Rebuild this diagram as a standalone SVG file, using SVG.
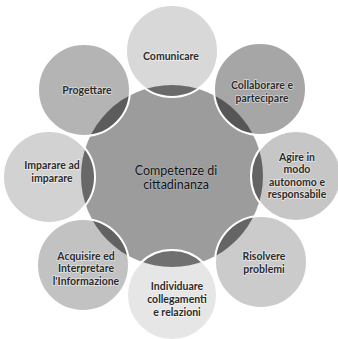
<svg xmlns="http://www.w3.org/2000/svg" width="338" height="339" viewBox="0 0 338 339">
<defs>
<style>
.lbl{font-family:Lato,"Open Sans","Liberation Sans",sans-serif;font-weight:bold;font-size:10.5px;fill:#2a2a2a;text-anchor:middle;stroke:#ffffff;stroke-width:1.4px;stroke-opacity:0.6;paint-order:stroke;}
.ctr{font-size:12.5px;font-weight:normal;fill:#111111;stroke:#c8c8c8;stroke-width:1px;}
.edge{fill:none;stroke:#ffffff;stroke-width:2;}
.lens{fill:#222222;fill-opacity:0.6;}
</style>
<clipPath id="outerUnion">
<circle cx="172" cy="51" r="46"/>
<circle cx="260" cy="89" r="46"/>
<circle cx="296" cy="176" r="45"/>
<circle cx="261" cy="262" r="46"/>
<circle cx="172" cy="295" r="45"/>
<circle cx="83" cy="265" r="46"/>
<circle cx="49" cy="177" r="46"/>
<circle cx="84" cy="90" r="46"/>
</clipPath>
</defs>
<rect width="338" height="339" fill="#ffffff"/>
<g id="center-node">
<circle cx="172" cy="176" r="91" fill="#9c9c9c"/>
</g>
<g id="outer-fills">
<circle id="c-comunicare" cx="172" cy="51" r="46" fill="#d8d8d8"/>
<circle id="c-collaborare" cx="260" cy="89" r="46" fill="#a6a6a6"/>
<circle id="c-agire" cx="296" cy="176" r="45" fill="#c6c6c6"/>
<circle id="c-risolvere" cx="261" cy="262" r="46" fill="#cbcbcb"/>
<circle id="c-individuare" cx="172" cy="295" r="45" fill="#e6e6e6"/>
<circle id="c-acquisire" cx="83" cy="265" r="46" fill="#c2c2c2"/>
<circle id="c-imparare" cx="49" cy="177" r="46" fill="#d2d2d2"/>
<circle id="c-progettare" cx="84" cy="90" r="46" fill="#b4b4b4"/>
</g>
<g id="overlaps" clip-path="url(#outerUnion)">
<circle class="lens" cx="172" cy="176" r="91"/>
</g>
<g id="outer-edges">
<circle class="edge" cx="172" cy="51" r="46"/>
<circle class="edge" cx="260" cy="89" r="46"/>
<circle class="edge" cx="296" cy="176" r="45"/>
<circle class="edge" cx="261" cy="262" r="46"/>
<circle class="edge" cx="172" cy="295" r="45"/>
<circle class="edge" cx="83" cy="265" r="46"/>
<circle class="edge" cx="49" cy="177" r="46"/>
<circle class="edge" cx="84" cy="90" r="46"/>
</g>
<g id="connectors"></g>
<g id="node-center-label">
<text class="lbl ctr" x="176" y="175"><tspan x="176" y="175">Competenze di</tspan><tspan x="176" y="189">cittadinanza</tspan></text>
</g>
<g id="node-comunicare">
<text class="lbl" x="171" y="60">Comunicare</text>
</g>
<g id="node-collaborare">
<text class="lbl" x="262" y="89">Collaborare e</text>
<text class="lbl" x="262" y="102">partecipare</text>
</g>
<g id="node-agire">
<text class="lbl" x="297" y="161">Agire in</text>
<text class="lbl" x="297" y="173">modo</text>
<text class="lbl" x="297" y="186">autonomo e</text>
<text class="lbl" x="297" y="198">responsabile</text>
</g>
<g id="node-risolvere">
<text class="lbl" x="264" y="260">Risolvere</text>
<text class="lbl" x="264" y="273">problemi</text>
</g>
<g id="node-individuare">
<text class="lbl" x="177" y="290">Individuare</text>
<text class="lbl" x="177" y="303">collegamenti</text>
<text class="lbl" x="177" y="316">e relazioni</text>
</g>
<g id="node-acquisire">
<text class="lbl" x="86" y="260">Acquisire ed</text>
<text class="lbl" x="86" y="272">Interpretare</text>
<text class="lbl" x="86" y="285">l'Informazione</text>
</g>
<g id="node-imparare">
<text class="lbl" x="52" y="169">Imparare ad</text>
<text class="lbl" x="52" y="182">imparare</text>
</g>
<g id="node-progettare">
<text class="lbl" x="87" y="94">Progettare</text>
</g>
</svg>
